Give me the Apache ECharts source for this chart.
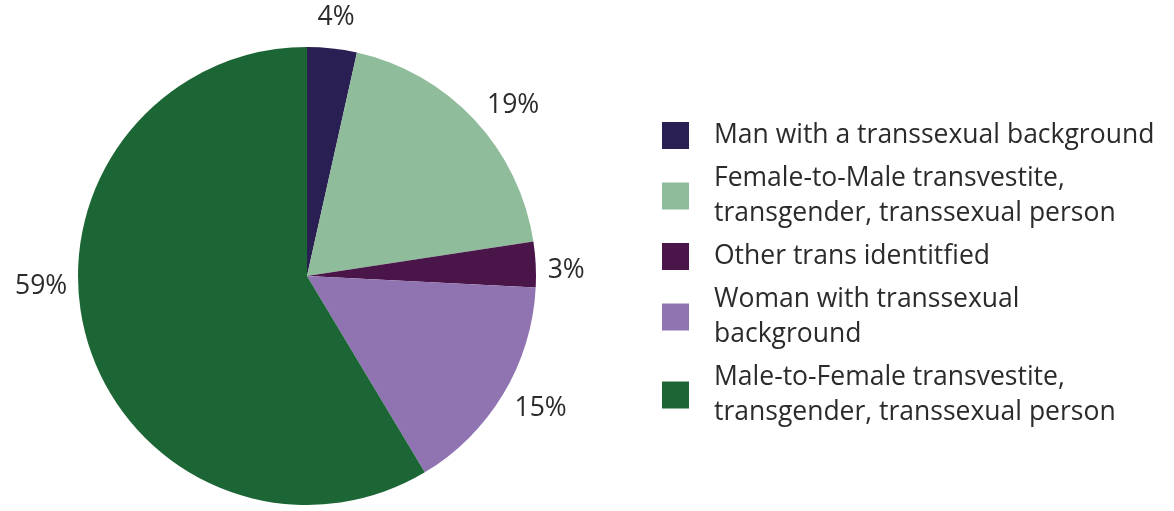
<!DOCTYPE html>
<html>
<head>
<meta charset="utf-8">
<script src="https://cdn.jsdelivr.net/npm/echarts@6/dist/echarts.min.js"></script>
<style>
  html, body { margin: 0; padding: 0; background: #fff; }
  #chart { width: 1174px; height: 511px; }
</style>
</head>
<body>
<div id="chart"></div>
<script>
// categories, in drawing order (clockwise from 12 o'clock)
const categories = [
    'Man with a transsexual background',
    'Female-to-Male transvestite, transgender, transsexual person',
    'Other trans identitfied',
    'Woman with transsexual background',
    'Male-to-Female transvestite, transgender, transsexual person'
]
// legend text as printed (line breaks)
const legendLabels = [
    'Man with a transsexual background',
    'Female-to-Male transvestite,\ntransgender, transsexual person',
    'Other trans identitfied',
    'Woman with transsexual\nbackground',
    'Male-to-Female transvestite,\ntransgender, transsexual person'
]
// slice shares
const shares = [3.5, 19.1, 3.2, 15.6, 58.6]
// percentage labels printed on the chart
const pctLabels = ['4%', '19%', '3%', '15%', '59%']
const colors = ['#2a1f52', '#8fbc9b', '#4a1649', '#9074b2', '#1c6636']

const textColor = '#2b2b2b'
const fontFamily = '"Open Sans", "Noto Sans", sans-serif'

// small nudges so the % labels sit where the original put them
const labelNudge = [[0, 5], [12, 11], [-6, 8], [6, -4], [-10, -60]]

let chart = echarts.init(document.getElementById('chart'), null, { renderer: 'canvas' })

let pieData = categories.map((name, i) => ({
    name: name,
    value: shares[i],
    itemStyle: { color: colors[i] }
}))

// transparent ring that only carries the % labels
let labelData = categories.map((name, i) => ({
    name: name,
    value: shares[i],
    itemStyle: { color: 'rgba(0,0,0,0)' },
    label: { formatter: pctLabels[i], offset: labelNudge[i] }
}))

let option = {
    animation: false,
    legend: {
        orient: 'vertical',
        left: 657,
        top: 113,
        itemWidth: 27,
        itemHeight: 27,
        itemGap: 8,
        icon: 'rect',
        selectedMode: false,
        data: categories,
        formatter: function (name) {
            return legendLabels[categories.indexOf(name)]
        },
        textStyle: {
            fontFamily: fontFamily,
            fontSize: 26.5,
            lineHeight: 35,
            color: textColor,
            padding: [0, 0, 0, 20]
        }
    },
    series: [
        {
            type: 'pie',
            center: [307, 276],
            radius: 229,
            startAngle: 90,
            clockwise: true,
            silent: true,
            label: { show: false },
            labelLine: { show: false },
            data: pieData
        },
        {
            type: 'pie',
            center: [307, 276],
            radius: [255, 270],
            startAngle: 90,
            clockwise: true,
            silent: true,
            label: {
                show: true,
                position: 'inside',
                fontFamily: fontFamily,
                fontSize: 26.5,
                color: textColor
            },
            labelLine: { show: false },
            data: labelData
        }
    ]
}

chart.setOption(option)
</script>
</body>
</html>
